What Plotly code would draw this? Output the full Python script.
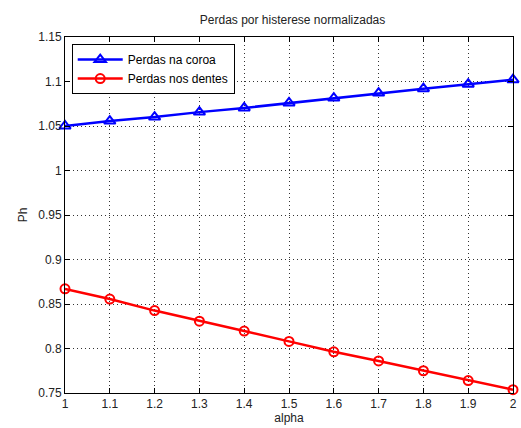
import plotly.graph_objects as go

alpha = [1.0, 1.1, 1.2, 1.3, 1.4, 1.5, 1.6, 1.7, 1.8, 1.9, 2.0]
perdas_coroa = [1.050, 1.0556, 1.060, 1.0656, 1.0703, 1.0759, 1.0814, 1.087, 1.0919, 1.097, 1.102]
perdas_dentes = [0.867, 0.8556, 0.8426, 0.8307, 0.8196, 0.808, 0.7963, 0.786, 0.775, 0.764, 0.7537]

x_ticks = [1, 1.1, 1.2, 1.3, 1.4, 1.5, 1.6, 1.7, 1.8, 1.9, 2]
x_ticklabels = ["1", "1.1", "1.2", "1.3", "1.4", "1.5", "1.6", "1.7", "1.8", "1.9", "2"]
y_ticks = [0.75, 0.8, 0.85, 0.9, 0.95, 1.0, 1.05, 1.1, 1.15]
y_ticklabels = ["0.75", "0.8", "0.85", "0.9", "0.95", "1", "1.05", "1.1", "1.15"]

FONT = "Liberation Sans, Arial"

fig = go.Figure()
fig.add_trace(go.Scatter(
    x=alpha, y=perdas_coroa, mode="lines+markers", name="Perdas na coroa",
    line=dict(color="#0000ff", width=2.5),
    marker=dict(symbol="triangle-up-open", size=10, color="#0000ff", line=dict(width=2)),
    cliponaxis=False,
))
fig.add_trace(go.Scatter(
    x=alpha, y=perdas_dentes, mode="lines+markers", name="Perdas nos dentes",
    line=dict(color="#ff0000", width=2.5),
    marker=dict(symbol="circle-open", size=9, color="#ff0000", line=dict(width=2)),
    cliponaxis=False,
))

axis_common = dict(
    showline=True, linecolor="black", linewidth=1, mirror="ticks",
    ticks="inside", ticklen=5, tickcolor="black",
    showgrid=True, gridcolor="#333333", griddash="1px,3px", gridwidth=1,
    zeroline=False, ticklabeloverflow="allow",
    tickfont=dict(family=FONT, size=12, color="#222222"),
)

fig.update_layout(
    width=521, height=428,
    paper_bgcolor="white", plot_bgcolor="white",
    margin=dict(l=65, r=4, t=37, b=35),
    title=dict(text="Perdas por histerese normalizadas", x=0.5615, xanchor="center",
               y=1 - 20 / 428, yanchor="middle",
               font=dict(family=FONT, size=12, color="#222222")),
    xaxis=dict(range=[1, 2], tickvals=x_ticks, ticktext=x_ticklabels,
               title=dict(text="alpha", standoff=2,
                          font=dict(family=FONT, size=12, color="#222222")),
               **axis_common),
    yaxis=dict(range=[0.75, 1.15], tickvals=y_ticks, ticktext=y_ticklabels,
               title=dict(text="Ph", standoff=8,
                          font=dict(family=FONT, size=12, color="#222222")),
               **axis_common),
    legend=dict(x=0.015, y=0.98, xanchor="left", yanchor="top",
                bgcolor="white", bordercolor="black", borderwidth=1,
                font=dict(family=FONT, size=12, color="black"),
                tracegroupgap=0, itemwidth=45),
    showlegend=True,
)

fig.write_html(
    "out.html",
    config={"displayModeBar": False},
    post_script="document.body.style.margin='0';document.body.style.overflow='hidden';",
)
